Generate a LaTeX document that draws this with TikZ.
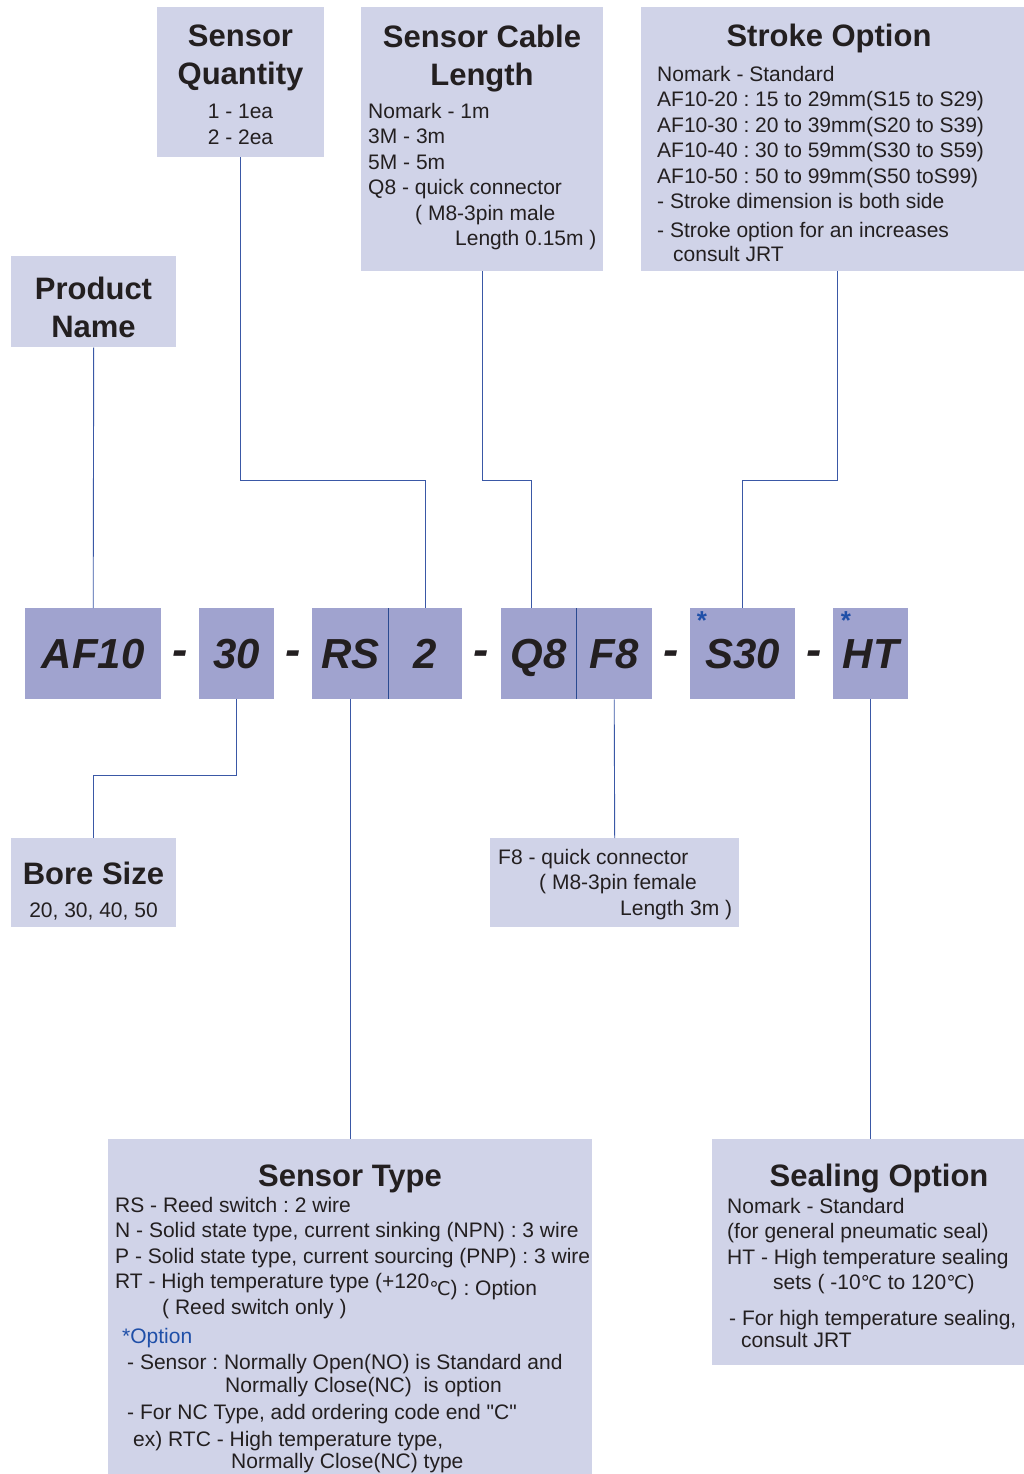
\documentclass[tikz,border=0pt]{standalone}
\usepackage{fontspec}
\setmainfont{Liberation Sans}
\newfontfamily\symfont{DejaVu Sans}
\newfontfamily\quotefont{Liberation Sans}
\usetikzlibrary{positioning}
\frenchspacing

\definecolor{boxlight}{HTML}{D0D3E8}
\definecolor{boxcode}{HTML}{A0A3CF}
\definecolor{linkblue}{HTML}{3A58A6}
\definecolor{divblue}{HTML}{2A4A90}
\definecolor{starblue}{HTML}{1F4FA8}
\definecolor{inkgray}{HTML}{231F20}

\newcommand{\degcel}{{\symfont\fontsize{19}{19}\selectfont ℃}}
\newcommand{\dquote}{{\quotefont"}}

\tikzset{
    infobox/.style={fill=boxlight, inner sep=0pt, anchor=north west},
    codebox/.style={fill=boxcode, inner sep=0pt, anchor=north west, minimum height=91pt,
        text height=30pt, text depth=0pt, text=inkgray,
        font=\fontsize{42}{42}\selectfont\bfseries\itshape},
    hyph/.style={inner sep=0pt, text=inkgray, font=\fontsize{46}{46}\selectfont\bfseries\itshape},
    starmark/.style={inner sep=0pt, text=starblue, font=\fontsize{26}{26}\selectfont\bfseries},
    title/.style={inner sep=0pt, align=center, text=inkgray,
        font=\fontsize{31}{38}\selectfont\bfseries},
    body/.style={inner sep=0pt, align=left, anchor=north west, text=inkgray,
        font=\fontsize{21}{25.4}\selectfont},
    link/.style={draw=linkblue, line width=0.9pt},
    divider/.style={draw=divblue, line width=1.1pt},
}

\begin{document}
\begin{tikzpicture}[x=1pt, y=-1pt]
    \useasboundingbox (0,0) rectangle (1024,1474);

    % description boxes
    \node [infobox, minimum width=167pt, minimum height=150pt] (qty) at (157,7) {};
    \node [infobox, minimum width=242pt, minimum height=264pt] (cable) at (361,7) {};
    \node [infobox, minimum width=383pt, minimum height=264pt] (stroke) at (641,7) {};
    \node [infobox, minimum width=165pt, minimum height=91pt] (pname) at (11,256) {};
    \node [infobox, minimum width=165pt, minimum height=89pt] (bore) at (11,838) {};
    \node [infobox, minimum width=249pt, minimum height=89pt] (f8note) at (490,838) {};
    \node [infobox, minimum width=484pt, minimum height=335pt] (stype) at (108,1139) {};
    \node [infobox, minimum width=312pt, minimum height=226pt] (seal) at (712,1139) {};

    % ordering code
    \node [codebox, minimum width=136pt] (af) at (25,608) {AF10};
    \node [codebox, minimum width=75pt] (n30) at (199,608) {30};
    \node [codebox, minimum width=76pt] (rs) at (312,608) {RS};
    \node [codebox, minimum width=74pt] (two) at (388,608) {2};
    \node [codebox, minimum width=75pt] (q8) at (501,608) {Q8};
    \node [codebox, minimum width=76pt] (f8) at (576,608) {F8};
    \node [codebox, minimum width=105pt] (s30) at (690,608) {S30};
    \node [codebox, minimum width=75pt] (ht) at (833,608) {HT};
    \draw [divider] (rs.north east) -- (rs.south east) ;
    \draw [divider] (q8.north east) -- (q8.south east) ;
    \node [starmark] (s30star) at (702,621) {*};
    \node [starmark] (htstar) at (846,621) {*};

    \node [hyph] (h1) at (180,658) {-};
    \node [hyph] (h2) at (293,658) {-};
    \node [hyph] (h3) at (481.5,658) {-};
    \node [hyph] (h4) at (671,658) {-};
    \node [hyph] (h5) at (814,658) {-};

    % texts
    \node [title, anchor=north] (qtytitle) at (240.5,25) {Sensor\\Quantity};
    \node [body, anchor=north, align=center] (qtybody) at (240.5,104) {1 - 1ea\\2 - 2ea};

    \node [title, anchor=north] (cabletitle) at (482,25) {Sensor Cable\\Length};
    \node [body] (cablebody) at (368,103) {Nomark - 1m\\3M - 3m\\5M - 5m\\Q8 - quick connector\\
        \hspace*{47pt}( M8-3pin male\\
        \hspace*{87pt}Length 0.15m )};

    \node [title, anchor=base] (stroketitle) at (829,47) {Stroke Option};
    \node [body] (strokebody) at (657,66) {Nomark - Standard\\
        AF10-20 : 15 to 29mm(S15 to S29)\\
        AF10-30 : 20 to 39mm(S20 to S39)\\
        AF10-40 : 30 to 59mm(S30 to S59)\\
        AF10-50 : 50 to 99mm(S50 toS99)\\
        - Stroke dimension is both side\\[3.5pt]
        - Stroke option for an increases\\[-1.5pt]
        \hspace*{16pt}consult JRT};

    \node [title, anchor=north] (pnametitle) at (93.5,277) {Product\\Name};

    \node [title, anchor=base] (boretitle) at (93.5,884) {Bore Size};
    \node [body, anchor=base] (borebody) at (93.5,917.5) {20, 30, 40, 50};

    \node [body] (f8body) at (498,849) {F8 - quick connector\\
        \hspace*{41pt}( M8-3pin female\\
        \hspace*{122pt}Length 3m )};

    \node [title, anchor=base] (stypetitle) at (350,1186) {Sensor Type};
    \node [body] (stypebody) at (115,1197) {RS - Reed switch : 2 wire\\
        N - Solid state type, current sinking (NPN) : 3 wire\\
        P - Solid state type, current sourcing (PNP) : 3 wire\\
        RT - High temperature type (+120\smash{\raisebox{-7pt}{\degcel) : Option}}\\
        \hspace*{47pt}( Reed switch only )\\[4.5pt]
        \hspace*{7pt}\textcolor{starblue}{*Option}\\
        \hspace*{12pt}- Sensor : Normally Open(NO) is Standard and\\[-2.5pt]
        \hspace*{110pt}Normally Close(NC)\ \ is option\\[1.5pt]
        \hspace*{12pt}- For NC Type, add ordering code end \dquote C\dquote\\[1.5pt]
        \hspace*{18pt}ex) RTC - High temperature type,\\[-2.5pt]
        \hspace*{116pt}Normally Close(NC) type};

    \node [title, anchor=base] (sealtitle) at (879,1186) {Sealing Option};
    \node [body] (sealbody) at (727,1198) {Nomark - Standard\\
        (for general pneumatic seal)\\
        HT - High temperature sealing\\
        \hspace*{46pt}sets ( -10\degcel{} to 120\degcel)\\[10pt]
        \hspace*{2pt}- For high temperature sealing,\\[-3pt]
        \hspace*{14pt}consult JRT};

    % connectors
    \coordinate (upbus) at (0,480);
    \coordinate (lowbus) at (0,775);
    \coordinate (q8top) at ([xshift=-7pt]q8.north);
    \coordinate (strokefoot) at ([xshift=4.5pt]stroke.south);
    \draw [link] (pname.south) -- (af.north) ;
    \draw [link] (qty.south) |- (two.north |- upbus) -- (two.north) ;
    \draw [link] (cable.south) |- (q8top |- upbus) -- (q8top) ;
    \draw [link] (strokefoot) |- (s30.north |- upbus) -- (s30.north) ;
    \draw [link] (n30.south) |- (bore.north |- lowbus) -- (bore.north) ;
    \draw [link] (rs.south) -- (stype.north) ;
    \draw [link] (f8.south) -- (f8note.north) ;
    \draw [link] (ht.south) -- (ht.south |- seal.north) ;
\end{tikzpicture}
\end{document}
